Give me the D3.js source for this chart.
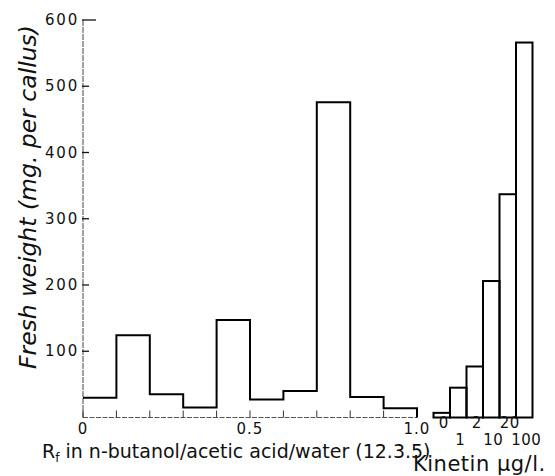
<!DOCTYPE html>
<html>
<head>
<meta charset="utf-8">
<script src="https://cdn.jsdelivr.net/npm/d3@7"></script>
<style>
  body { margin: 0; background: #fff; }
  text { font-family: "DejaVu Sans", sans-serif; fill: #111; }
</style>
</head>
<body>
<div id="chart"></div>
<script>
// data
var rfBins = [0, 0.1, 0.2, 0.3, 0.4, 0.5, 0.6, 0.7, 0.8, 0.9];
var rfWeights = [30, 124, 35, 15, 147, 27, 40, 476, 31, 14];
var rfTicks = [0, 0.5, 1.0];
var rfTickLabels = ['0', '0.5', '1.0'];

var kinetinDoses = ['0', '1', '2', '10', '20', '100'];
var kinetinWeights = [7, 45, 77, 206, 337, 566];

var yTicks = [100, 200, 300, 400, 500, 600];

var svgWidth = 555,
    svgHeight = 476;

var svg = d3.select('#chart')
    .append('svg')
    .attr('width', svgWidth)
    .attr('height', svgHeight);

var y = d3.scaleLinear().domain([0, 600]).range([417.5, 20]);
var xRf = d3.scaleLinear().domain([0, 1]).range([83, 417]);
var xKin = d3.scaleBand().domain(kinetinDoses).range([433.5, 532.5]).padding(0);

// y axis (faint line, short ticks inside)
svg.append('line')
    .attr('x1', xRf(0)).attr('x2', xRf(0))
    .attr('y1', y(600)).attr('y2', y(0))
    .attr('stroke', '#444')
    .attr('stroke-width', 1)
    .attr('stroke-dasharray', '6,1');

svg.selectAll('.ytick')
    .data(yTicks)
    .enter()
    .append('line')
    .attr('x1', xRf(0) - 1)
    .attr('x2', d => d === 600 ? xRf(0) + 13 : xRf(0) + 6)
    .attr('y1', d => y(d)).attr('y2', d => y(d))
    .attr('stroke', '#111')
    .attr('stroke-width', 1.3);

svg.selectAll('.ylabel')
    .data(yTicks)
    .enter()
    .append('text')
    .attr('x', xRf(0) - 4)
    .attr('y', d => y(d) + 5)
    .attr('text-anchor', 'end')
    .style('font-size', '15px')
    .style('letter-spacing', '1.8px')
    .text(d => d);

// Rf baseline and minor ticks
svg.append('line')
    .attr('x1', xRf(0)).attr('x2', xRf(1))
    .attr('y1', y(0)).attr('y2', y(0))
    .attr('stroke', '#555')
    .attr('stroke-width', 1)
    .attr('stroke-dasharray', '5,1.5');

svg.selectAll('.rftick')
    .data(d3.range(0, 11).map(i => i / 10))
    .enter()
    .append('line')
    .attr('x1', d => xRf(d)).attr('x2', d => xRf(d))
    .attr('y1', y(0)).attr('y2', y(0) - 7)
    .attr('stroke', '#333')
    .attr('stroke-width', 1);

svg.selectAll('.rflabel')
    .data(rfTicks)
    .enter()
    .append('text')
    .attr('x', d => xRf(d))
    .attr('y', 434)
    .attr('text-anchor', 'middle')
    .style('font-size', '15px')
    .style('letter-spacing', '1px')
    .text((d, i) => rfTickLabels[i]);

// Rf histogram as a step outline
var step = d3.path();
step.moveTo(xRf(rfBins[0]), y(rfWeights[0]));
rfBins.forEach((b, i) => {
    if (i > 0) step.lineTo(xRf(b), y(rfWeights[i]));
    step.lineTo(xRf(b + 0.1), y(rfWeights[i]));
});
step.lineTo(xRf(1), y(0));

svg.append('path')
    .attr('d', step.toString())
    .attr('fill', 'none')
    .attr('stroke', '#000')
    .attr('stroke-width', 2)
    .attr('stroke-linejoin', 'miter');

// Kinetin bars
svg.selectAll('.kbar')
    .data(kinetinWeights)
    .enter()
    .append('rect')
    .attr('x', (d, i) => xKin(kinetinDoses[i]))
    .attr('y', d => y(d))
    .attr('width', xKin.bandwidth())
    .attr('height', d => y(0) - y(d))
    .attr('fill', 'none')
    .attr('stroke', '#000')
    .attr('stroke-width', 2);

svg.selectAll('.klabel')
    .data(kinetinDoses)
    .enter()
    .append('text')
    .attr('x', d => xKin(d) + xKin.bandwidth() / 2 + 2)
    .attr('y', (d, i) => i % 2 === 0 ? 428 : 445)
    .attr('text-anchor', 'middle')
    .style('font-size', '15px')
    .style('letter-spacing', '0.5px')
    .text(d => d);

// axis titles
var rfTitle = svg.append('text')
    .attr('x', 42)
    .attr('y', 458)
    .style('font-size', '19px');
rfTitle.append('tspan').text('R');
rfTitle.append('tspan').attr('dy', 4).style('font-size', '12px').text('f');
rfTitle.append('tspan').attr('dy', -4).text(' in n-butanol/acetic acid/water (12.3.5)');

svg.append('text')
    .attr('x', 413)
    .attr('y', 471)
    .style('font-size', '21px')
    .style('letter-spacing', '0.5px')
    .text('Kinetin \u03bcg/l.');

svg.append('text')
    .attr('transform', 'translate(36,197)rotate(-90)')
    .attr('text-anchor', 'middle')
    .style('font-size', '23.5px')
    .style('font-style', 'italic')
    .text('Fresh weight (mg. per callus)');
</script>
</body>
</html>
